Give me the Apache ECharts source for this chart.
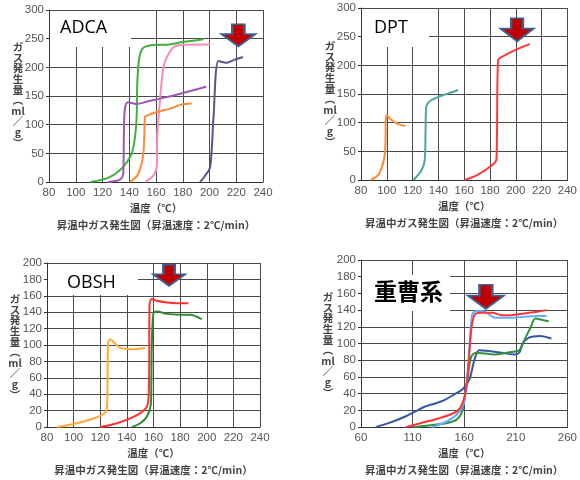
<!DOCTYPE html>
<html><head><meta charset="utf-8">
<script src="https://cdn.jsdelivr.net/npm/echarts@6/dist/echarts.min.js"></script>
<style>html,body{margin:0;padding:0;background:#fff}#c{width:580px;height:480px}</style>
</head><body><div id="c"></div>
<script>
// ---- data: [temperature (°C), gas volume (ml/g)] ----
const adcaGreen  = [[111,0],[125,8],[135,25],[141.5,48],[144,73],[145.5,113],[146,172],[147.5,216],[150.5,234],[158,239],[170,240],[180,244],[195.5,249]];
const adcaPink   = [[152,0],[158,11],[160.5,26],[161,84],[163,143],[165.5,200],[168,217],[173,235],[180.5,239.5],[200.5,240]];
const adcaPurple = [[124,0],[133,4],[135.5,14],[136,84],[136.7,127],[139,139],[145.5,136],[153,140],[168,148],[183,157],[197.5,166]];
const adcaOrange = [[140.5,0],[146.5,13],[150.5,49],[151.7,113],[152.3,115],[160.5,122],[170.5,128],[179,135],[186.7,137]];
const adcaNavy   = [[193,0],[196.7,11],[200.5,26],[203,113],[206.7,211],[213,208],[218,212.5],[225,218]];

const dptOrange = [[87.4,0],[94,11],[98.5,46],[99.8,113],[103.5,105],[108.4,98],[114.6,94]];
const dptTeal   = [[120.7,0],[126.9,17],[129.4,35],[130,81],[130.6,128],[133,137],[140.5,145.5],[147.9,151],[155.3,157]];
const dptRed    = [[160.2,0],[170,8.5],[179.9,23],[184.9,35],[185.4,81],[186.2,209],[189.9,215.5],[199.8,227],[210.9,237]];

const obshOrange = [[87.5,0],[102.5,4.7],[115,10.5],[122.5,16],[125,22],[125.5,59],[125.8,102],[127.5,107],[131.2,102],[135,96.5],[143.7,95],[153.7,96.5]];
const obshRed    = [[120,0],[132.5,4.7],[145,12.5],[152.5,20],[155.7,28],[156.7,59],[157,149],[158.7,156],[162.5,154],[170,152],[177.5,151],[186.2,151]];
const obshGreen  = [[143.7,0],[150,4.7],[155,12.5],[158,28],[158.7,98],[160,139.5],[162.5,141],[170,138],[180,137],[187.5,137],[196.2,131.5]];

const sodaNavy  = [[74.3,0],[87.4,5],[103,12.7],[112.3,18.5],[121.6,24.3],[131,28],[140.2,32],[149.6,38.6],[158.9,46],[165,57],[169.8,80],[174.5,92],[183.8,91],[196.2,89],[208.7,87],[213.3,89],[216.5,99.6],[222.7,107],[233.6,109],[244.5,106]];
const sodaRed   = [[103.5,0],[118.5,5],[134,10],[149.6,16.6],[155.8,22.4],[160.5,38],[163.6,65],[166.7,115],[169.8,134],[174.5,137],[186.9,137],[196.2,134],[205.5,134],[218,136],[230.4,138],[239.8,140]];
const sodaGreen = [[110.7,0],[127.8,2.3],[143.4,5],[152.7,9],[157.4,16.6],[160.5,34],[163.6,61],[166.7,84],[171.4,89],[180.7,88],[190,87],[205.5,90],[213.3,92],[218,103.5],[224.2,119],[228.9,130],[235.1,128.6],[241.9,126.6]];
const sodaBlue  = [[129.4,0],[143.4,7],[152.7,14.7],[158.9,26],[162,49],[165.1,96],[167.6,134],[171.3,139],[177.6,139],[183.8,135],[190,131],[205.5,131],[218,132],[230.4,133],[239.8,133]];

// arrow positions (data coords) per panel
const arrowAt = [[221.6,256],[201,262],[171.7,185],[181,156]];
const panelNames = ['ADCA','DPT','OBSH','重曹系'];
const xRanges = [[80,240,20],[80,240,20],[80,240,20],[60,260,50]];
const yRanges = [[0,300,50],[0,300,50],[0,200,20],[0,200,20]];
const xName = '温度（℃）';
const subTitle = '昇温中ガス発生図（昇温速度：2℃/min）';
const yName = 'ガ\nス\n発\n生\n量\n︵\nml\n／\ng\n︶';

const grids = [
  {left:49, top:10, width:214, height:172},
  {left:361, top:8, width:216, height:172},
  {left:47, top:263, width:213, height:171},
  {left:361, top:260, width:214, height:173}
];
const gridCol = '#4a4a4a';
const xAxes = xRanges.map((r,i)=>({
  type:'value', gridIndex:i, min:r[0], max:r[1], interval:r[2],
  axisLine:{show:true, onZero:false, lineStyle:{color:'#333'}},
  axisTick:{show:false},
  axisLabel:{color:'#555', fontSize:11.5, margin:5, fontFamily:'Liberation Sans'},
  splitLine:{show:true, lineStyle:{color:gridCol, width:1}},
  name: xName + '\n' + subTitle, nameLocation:'middle', nameGap:8,
  nameTextStyle:{color:'#444', fontSize:10.5, fontWeight:'bold', lineHeight:17, verticalAlign:'top', fontFamily:'Noto Sans CJK JP'}
}));
const yAxes = yRanges.map((r,i)=>({
  type:'value', gridIndex:i, min:r[0], max:r[1], interval:r[2],
  axisLine:{show:true, lineStyle:{color:'#333'}},
  axisTick:{show:true, length:3, lineStyle:{color:'#333'}},
  axisLabel:{color:'#555', fontSize:11.5, margin:5, fontFamily:'Liberation Sans'},
  splitLine:{show:true, lineStyle:{color:gridCol, width:1}}
}));

function line(data, color, idx){
  return {type:'line', data:data, xAxisIndex:idx, yAxisIndex:idx, showSymbol:false, smooth:0.3,
    lineStyle:{color:color, width:2}, itemStyle:{color:color}, z:3};
}
const arrowPath = 'path://M32,0 L68,0 L68,45 L100,45 L50,100 L0,45 L32,45 Z';
const arrowSizes = [[34,22],[33,23],[32,21],[36,24]];
function arrow(idx){
  return {type:'line', data:[], xAxisIndex:idx, yAxisIndex:idx, z:10,
    markPoint:{symbol:arrowPath, symbolKeepAspect:false, symbolSize:arrowSizes[idx], label:{show:false},
      itemStyle:{color:'#c00000', borderColor:'#3f5f8f', borderWidth:2},
      data:[{coord:arrowAt[idx]}]}};
}

const series = [
  line(adcaGreen,'#3db33d',0), line(adcaPink,'#f98cb0',0), line(adcaPurple,'#a056b4',0),
  line(adcaOrange,'#ff8a35',0), line(adcaNavy,'#56568a',0),
  line(dptOrange,'#ff8a35',1), line(dptTeal,'#4aa8a0',1), line(dptRed,'#ff3838',1),
  line(obshOrange,'#ffaa33',2), line(obshRed,'#ff3030',2), line(obshGreen,'#2e8b2e',2),
  line(sodaNavy,'#3355aa',3), line(sodaGreen,'#33913a',3), line(sodaBlue,'#62aeff',3), line(sodaRed,'#ff3535',3),
  arrow(0), arrow(1), arrow(2), arrow(3)
];

const boxes = [
  {x:50, y:11, w:81, h:36, tx:60, ty:19, fs:18, bold:false},
  {x:362, y:9, w:67, h:38, tx:374, ty:19, fs:18, bold:false},
  {x:48, y:264, w:90, h:31, tx:67, ty:274, fs:18, bold:false},
  {x:362, y:275, w:88, h:36, tx:374, ty:280, fs:23, bold:true}
];
const yNamePos = [[18,95],[330,94],[15,347],[328,345]];
const graphic = [];
boxes.forEach((b,i)=>{
  graphic.push({type:'rect', left:b.x, top:b.y, z:50, shape:{width:b.w, height:b.h}, style:{fill:'#fff'}});
  graphic.push({type:'text', left:b.tx, top:b.ty, z:51, style:{text:panelNames[i], fill:'#000',
    font:(b.bold?'bold ':'')+b.fs+'px '+(b.bold?'"Noto Sans CJK JP"':'"Open Sans"')}});
});
yNamePos.forEach(p=>{
  graphic.push({type:'text', x:p[0], y:p[1], z:51, style:{text:yName, fill:'#444', align:'center', verticalAlign:'middle',
    lineHeight:10.6, font:'bold 10.5px "Noto Sans CJK JP"'}});
});

const chart = echarts.init(document.getElementById('c'), null, {renderer:'canvas'});
chart.setOption({
  animation:false,
  backgroundColor:'#fff',
  grid:grids, xAxis:xAxes, yAxis:yAxes, series:series, graphic:graphic
});
</script></body></html>
